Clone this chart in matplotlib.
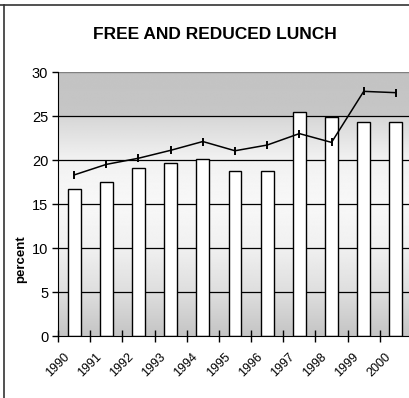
import numpy as np
import matplotlib.pyplot as plt
import matplotlib.transforms as mtransforms

plt.rcParams['font.family'] = ['Liberation Sans', 'DejaVu Sans']

years = ['1990', '1991', '1992', '1993', '1994', '1995', '1996', '1997', '1998', '1999', '2000']
bar_values = [16.7, 17.5, 19.1, 19.7, 20.1, 18.8, 18.8, 25.45, 24.85, 24.35, 24.35]
line_values = [18.3, 19.5, 20.2, 21.1, 22.1, 21.05, 21.7, 23.0, 22.0, 27.8, 27.65]
y_ticks = [0, 5, 10, 15, 20, 25, 30]

W, H = 410, 398
fig = plt.figure(figsize=(W / 100, H / 100), dpi=100)
ax = fig.add_axes([58 / W, 1 - 336 / H, 354 / W, 264 / H])

# vertical shaded background of the plot area
stops = [(0.0, 196), (5.0, 222), (10.0, 240), (15.0, 248), (20.0, 242),
         (24.99, 214), (25.0, 198), (30.0, 195)]
yy = np.linspace(0, 30, 600)
vals = np.interp(yy, [s[0] for s in stops], [s[1] for s in stops]) / 255.0
img = np.repeat(vals[::-1, None], 2, axis=1)
ax.imshow(img, cmap='gray', vmin=0, vmax=1, aspect='auto',
          extent=[0, 1, 0, 1], transform=ax.transAxes, zorder=0,
          interpolation='bilinear')

x = np.arange(len(years))
ax.set_xlim(-0.5, len(years) - 0.5)
ax.set_ylim(0, 30)

for t in y_ticks[1:-1]:
    ax.axhline(t, color='black', lw=0.9, zorder=1)
ax.axhline(30, color='#808080', lw=1.0, zorder=1)

ax.bar(x, bar_values, width=0.4, color='white', edgecolor='black',
       linewidth=1.0, zorder=2)
ax.plot(x, line_values, color='black', lw=1.1, marker='|', markersize=6,
        markeredgewidth=1.4, zorder=3)

for side in ['top', 'right']:
    ax.spines[side].set_visible(False)
ax.spines['left'].set_color('black')
ax.spines['bottom'].set_color('black')
ax.spines['left'].set_zorder(4)
ax.spines['bottom'].set_zorder(4)

ax.set_yticks(y_ticks)
ax.tick_params(axis='y', direction='out', length=4, width=1, labelsize=10.5,
               pad=3, colors='black')

ax.set_xticks(x)
ax.set_xticklabels(years, rotation=45, ha='right', rotation_mode='anchor',
                   fontsize=9)
ax.set_xticks(np.arange(-0.5, len(years) + 0.5, 1), minor=True)
ax.tick_params(axis='x', which='major', length=0, pad=11)
ax.tick_params(axis='x', which='minor', direction='inout', length=8, width=1)
shift = mtransforms.ScaledTranslation(-11 / 100, 0, fig.dpi_scale_trans)
for lab in ax.get_xticklabels():
    lab.set_transform(lab.get_transform() + shift)

fig.text(215 / W, 1 - 34.5 / H, 'FREE AND REDUCED LUNCH', ha='center',
         va='center', fontsize=12.5, fontweight='bold')
fig.text(21 / W, 1 - 259 / H, 'percent', rotation=90, ha='center',
         va='center', fontsize=9.5, fontweight='bold')

# outer border lines
fig.add_artist(plt.Line2D([0, 1], [1 - 4.5 / H, 1 - 4.5 / H],
                          transform=fig.transFigure, color='#333333', lw=1.2))
fig.add_artist(plt.Line2D([4 / W, 4 / W], [0, 1 - 4.5 / H],
                          transform=fig.transFigure, color='#333333', lw=1.2))

fig.savefig('out.png', dpi=100)
